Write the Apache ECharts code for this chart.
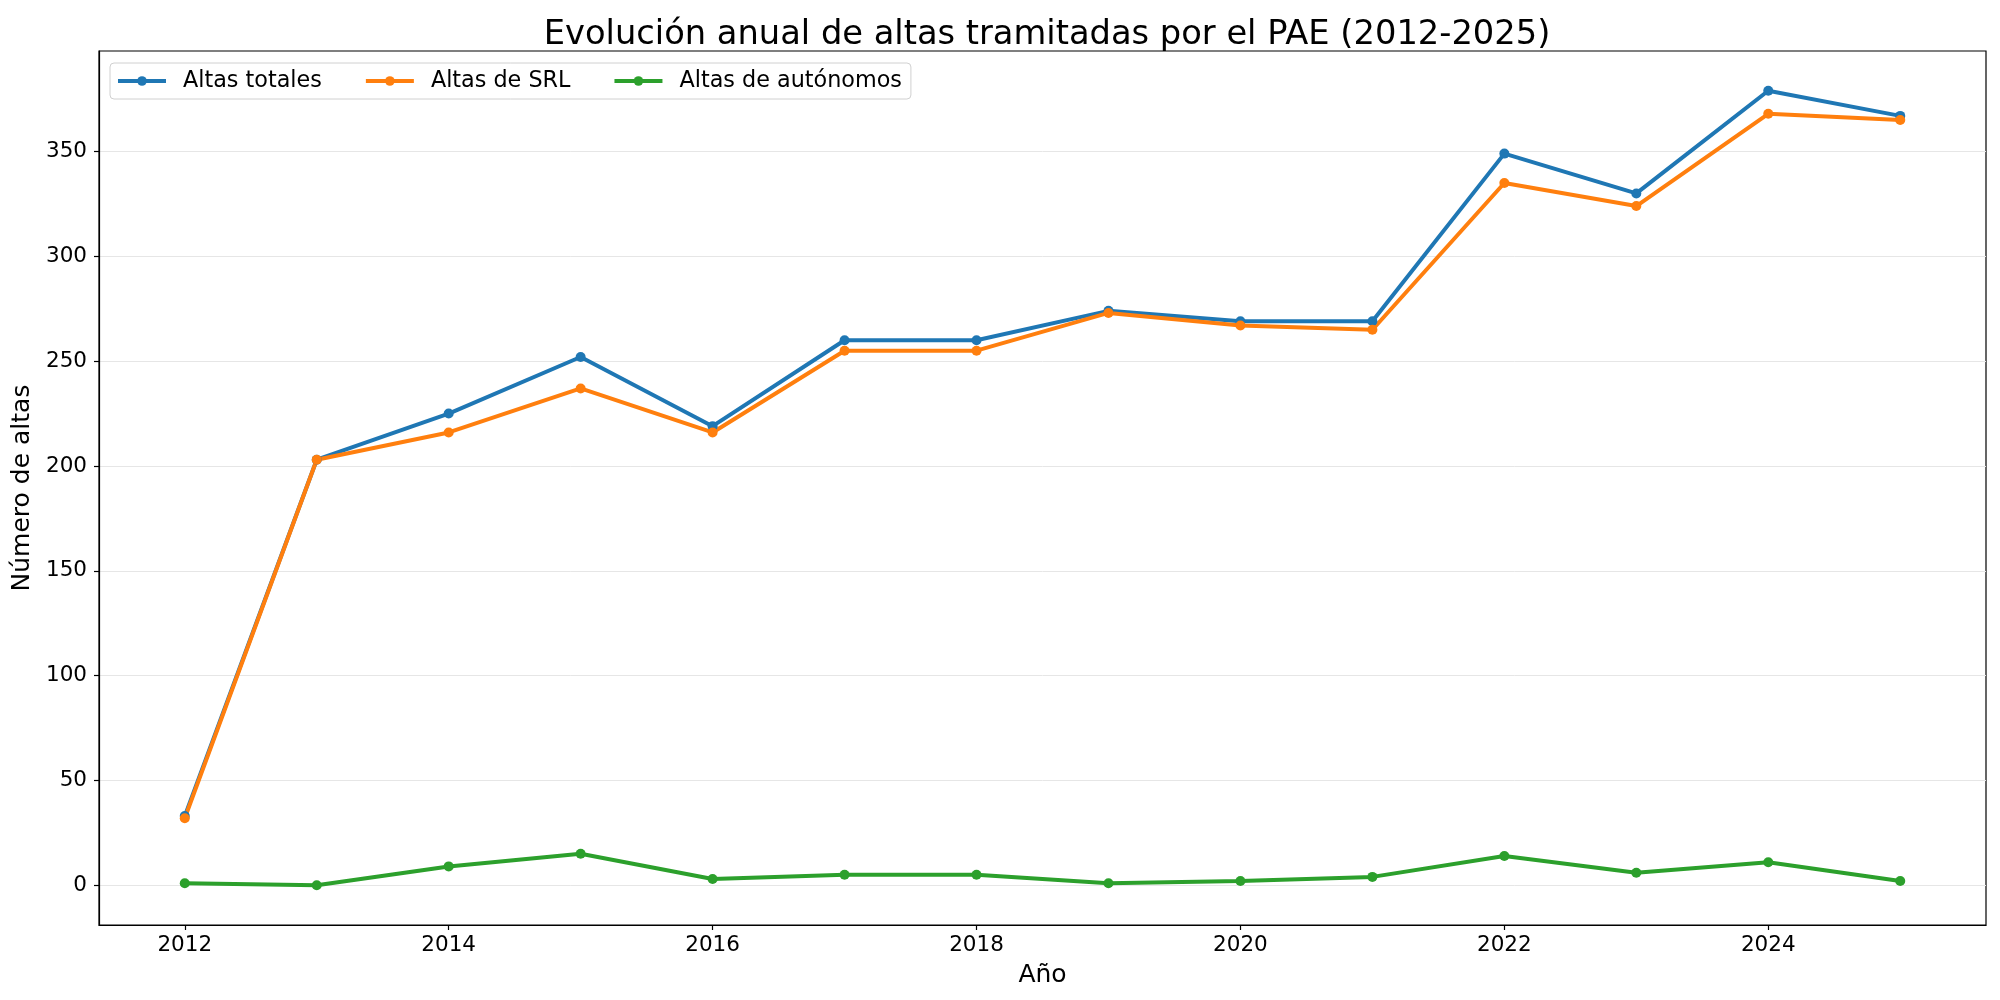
<!DOCTYPE html>
<html>
<head>
<meta charset="utf-8">
<script src="https://cdn.jsdelivr.net/npm/echarts@6/dist/echarts.min.js"></script>
<style>
  html, body { margin: 0; padding: 0; background: #fff; }
  #main { width: 2000px; height: 1000px; }
</style>
</head>
<body>
<div id="main"></div>
<script>
// datos
var years = [2012, 2013, 2014, 2015, 2016, 2017, 2018, 2019, 2020, 2021, 2022, 2023, 2024, 2025];
var altasTotales = [33, 203, 225, 252, 219, 260, 260, 274, 269, 269, 349, 330, 379, 367];
var altasSRL = [32, 203, 216, 237, 216, 255, 255, 273, 267, 265, 335, 324, 368, 365];
var altasAutonomos = [1, 0, 9, 15, 3, 5, 5, 1, 2, 4, 14, 6, 11, 2];
var xTicks = [2012, 2014, 2016, 2018, 2020, 2022, 2024];
var yTicks = [0, 50, 100, 150, 200, 250, 300, 350];

var font = "DejaVu Sans";
var chart = echarts.init(document.getElementById("main"));

function pairs(vals) {
  return years.map(function (y, i) { return [y, vals[i]]; });
}

function serie(name, vals, color) {
  return {
    name: name,
    type: "line",
    data: pairs(vals),
    symbol: "circle",
    symbolSize: 10,
    showAllSymbol: true,
    color: color,
    lineStyle: { width: 4, color: color },
    itemStyle: { color: color },
    emphasis: { disabled: true }
  };
}

var option = {
  animation: false,
  backgroundColor: "#fff",
  title: {
    text: "Evolución anual de altas tramitadas por el PAE (2012-2025)",
    left: 1042,
    textAlign: "center",
    top: 13,
    textStyle: { fontFamily: font, fontSize: 33.7, fontWeight: "normal", color: "#000" }
  },
  legend: {
    left: 110,
    top: 63,
    itemWidth: 48,
    itemHeight: 12,
    itemGap: 42,
    padding: [7, 9, 7, 6],
    borderColor: "#d0d0d0",
    borderWidth: 1,
    borderRadius: 4,
    backgroundColor: "#fff",
    lineStyle: { width: 4 },
    textStyle: { fontFamily: font, fontSize: 22.3, color: "#000", padding: [0, 0, 0, 12] }
  },
  grid: {
    left: 99,
    right: 14,
    top: 51,
    bottom: 75,
    show: true,
    borderColor: "#000",
    borderWidth: 1.2,
    containLabel: false
  },
  xAxis: {
    type: "value",
    min: 2011.35,
    max: 2025.65,
    name: "Año",
    nameLocation: "middle",
    nameGap: 38,
    nameTextStyle: { fontFamily: font, fontSize: 25, color: "#000" },
    axisLine: { show: true, onZero: false, lineStyle: { color: "#000", width: 1.2 } },
    axisTick: { show: true, length: 5, customValues: xTicks, lineStyle: { color: "#000", width: 1.2 } },
    axisLabel: {
      customValues: xTicks,
      margin: 9,
      fontFamily: font,
      fontSize: 21.5,
      color: "#000",
      formatter: function (v) { return String(v); }
    },
    splitLine: { show: false }
  },
  yAxis: {
    type: "value",
    min: -18.95,
    max: 397.95,
    name: "Número de altas",
    nameLocation: "middle",
    nameGap: 59,
    nameTextStyle: { fontFamily: font, fontSize: 25, color: "#000" },
    axisLine: { show: true, onZero: false, lineStyle: { color: "#000", width: 1.2 } },
    axisTick: { show: true, length: 5, customValues: yTicks, lineStyle: { color: "#000", width: 1.2 } },
    axisLabel: {
      customValues: yTicks,
      margin: 12,
      fontFamily: font,
      fontSize: 21.5,
      color: "#000"
    },
    splitLine: { show: true, lineStyle: { color: "#e6e6e6", width: 1 } }
  },
  series: [
    serie("Altas totales", altasTotales, "#1f77b4"),
    serie("Altas de SRL", altasSRL, "#ff7f0e"),
    serie("Altas de autónomos", altasAutonomos, "#2ca02c")
  ]
};

chart.setOption(option);
</script>
</body>
</html>
